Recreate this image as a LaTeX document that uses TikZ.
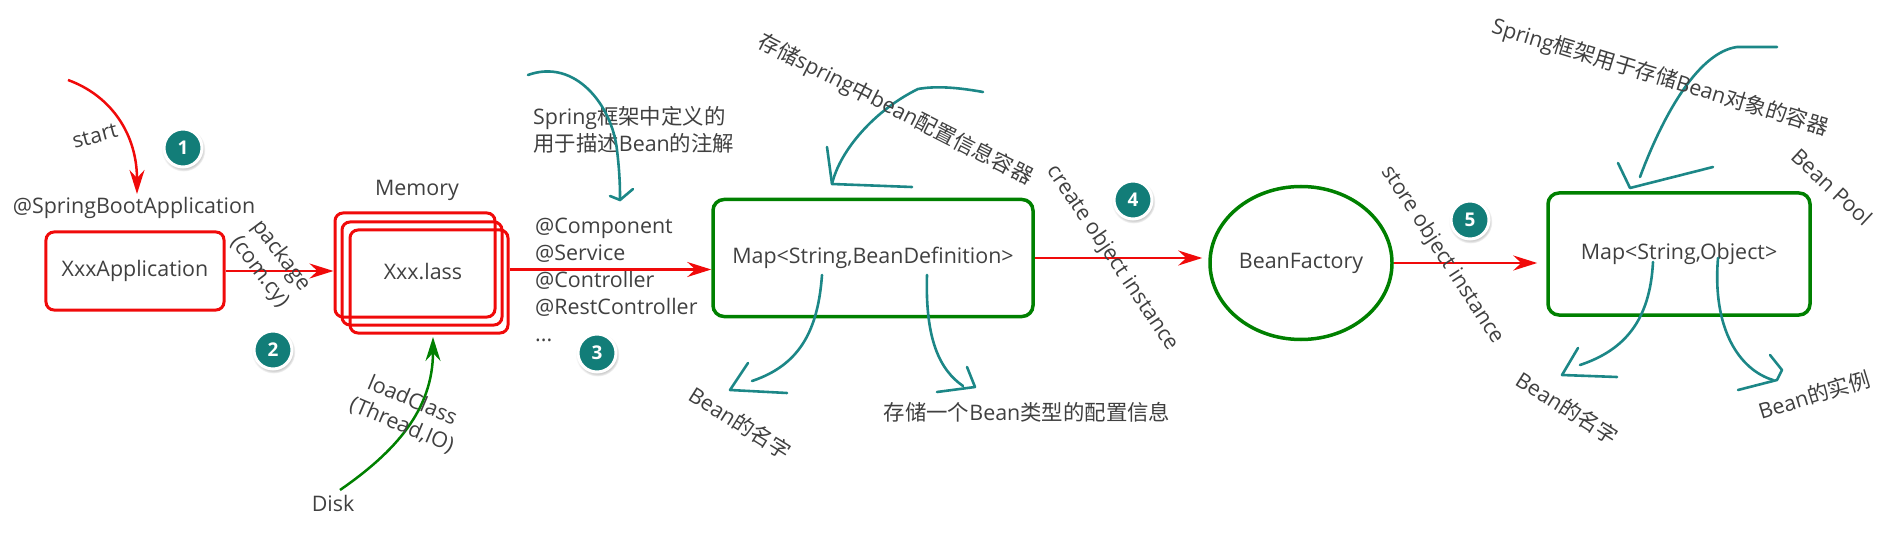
\documentclass[tikz,border=0pt]{standalone}
\usepackage{fontspec}
\setmainfont{Open Sans}
\newfontfamily\cjk{Noto Sans CJK SC}
\usetikzlibrary{arrows.meta,shapes.geometric,shadows}
\definecolor{myred}{RGB}{240,10,10}
\definecolor{mygreen}{RGB}{0,128,0}
\definecolor{myteal}{RGB}{28,135,135}
\definecolor{numfill}{RGB}{18,125,120}
\definecolor{txt}{RGB}{64,64,64}
\tikzset{
 lbl/.style={text=txt, font=\fontsize{21.5}{27}\selectfont, inner sep=0pt},
 redbox/.style={draw=myred, line width=3bp, rounded corners=8bp},
 greenbox/.style={lbl, draw=mygreen, line width=3.5bp, rounded corners=11bp},
 redarrow/.style={draw=myred, line width=2.5bp, -{Stealth[length=24bp,width=15bp,inset=8bp]}},
 greenarrow/.style={draw=mygreen, line width=2.5bp, -{Stealth[length=24bp,width=15bp,inset=8bp]}},
 tealline/.style={draw=myteal, line width=2.6bp, line cap=round, line join=round},
 numc/.style={circle, fill=numfill, draw=white, line width=3bp, minimum size=38bp, inner sep=0pt, text=white, font=\bfseries\fontsize{19}{19}\selectfont, circular drop shadow={shadow xshift=0.5bp, shadow yshift=-1.5bp, opacity=0.4, shadow scale=1.15}},
}
\begin{document}
\begin{tikzpicture}[x=1bp,y=-1bp]
\useasboundingbox (0,0) rectangle (1882,533);
% ---- step 1
\node[lbl] (sba) at (134,208) {@SpringBootApplication};
\node[lbl, redbox, minimum width=178bp, minimum height=78bp] (app) at (135,271) {XxxApplication};
\coordinate (s0) at (68,80);
\coordinate (s1) at (137,194);
\draw[redarrow] (s0) .. controls (112,96) and (137,135) .. (s1);
\node[lbl, rotate=15] (start) at (95,136) {start};
\node[numc] (n1) at (183,148) {1};
% ---- memory
\node[redbox, minimum width=160bp, minimum height=104bp] (m1) at (415,265) {};
\node[redbox, minimum width=160bp, minimum height=103bp] (m2) at (422,273.5) {};
\node[redbox, minimum width=158bp, minimum height=103bp] (m3) at (429,281.5) {};
\node[lbl] (xl) at (423,272) {Xxx.lass};
\node[lbl] (mem) at (417,190) {Memory};
\draw[redarrow] (app.east) -- (app.east -| m1.west);
\node[lbl, rotate=-53, align=center] (pkg) at (270,264) {package\\(com.cy)};
\node[numc] (n2) at (273,350) {2};
% ---- disk
\node[lbl] (disk) at (333,503) {Disk};
\coordinate (d0) at (340,490);
\coordinate (d1) at (433,337);
\draw[greenarrow] (d0) .. controls (395,452) and (433,410) .. (d1);
\node[lbl, rotate=-23, align=center] (lc) at (407,413) {loadClass\\(Thread,IO)};
% ---- annotations
\node[lbl, align=left, anchor=west] (ann) at (533,130) {Spring{\cjk 框架中定义的}\\{\cjk 用于描述}Bean{\cjk 的注解}};
\coordinate (a0) at (528,75);
\coordinate (a1) at (620,200);
\draw[tealline] (a0) .. controls (575,58) and (612,105) .. (617,150) .. controls (620,175) and (620,190) .. (a1);
\draw[tealline] (610,196) -- (a1) -- (633,189);
\node[lbl, align=left, anchor=west] (list) at (535,280) {@Component\\@Service\\@Controller\\@RestController\\...};
\node[numc] (n3) at (597,353) {3};
% ---- map bean definition
\node[greenbox, minimum width=320bp, minimum height=117bp] (mapbd) at (873,258) {Map<String,BeanDefinition>};
\path (m3.east) ++(0,-12) coordinate (o1);
\draw[redarrow] (o1) -- (o1 -| mapbd.west);
\coordinate (b0) at (983,92);
\coordinate (b1) at (832,184);
\draw[tealline] (b0) .. controls (955,87) and (935,86) .. (918,89) .. controls (875,110) and (840,150) .. (b1);
\draw[tealline] (827,147) -- (b1) -- (912,187);
\node[lbl, rotate=-27] (t1) at (895,110) {{\cjk 存储}spring{\cjk 中}bean{\cjk 配置信息容器}};
\coordinate (c0) at (822,275);
\coordinate (c1) at (730,390);
\draw[tealline] (c0) .. controls (818,330) and (800,365) .. (752,381);
\draw[tealline] (748,363) -- (c1) -- (787,393);
\node[lbl, rotate=-32] (bn1) at (740,423) {Bean{\cjk 的名字}};
\coordinate (e0) at (927,275);
\coordinate (e1) at (975,387);
\draw[tealline] (e0) .. controls (925,340) and (940,370) .. (963,386);
\draw[tealline] (967,367) -- (e1) -- (937,392);
\node[lbl] (cfg) at (1027,412) {{\cjk 存储一个}Bean{\cjk 类型的配置信息}};
% ---- bean factory
\node[lbl, ellipse, draw=mygreen, line width=3.5bp, minimum width=182bp, minimum height=153bp] (bf) at (1301,263) {BeanFactory};
\draw[redarrow, shorten >=6bp] (mapbd.east) -- (mapbd.east -| bf.west);
\node[lbl, rotate=-56] (coi) at (1112,258) {create object instance};
\node[numc] (n4) at (1133,200) {4};
% ---- map object
\node[greenbox, minimum width=262bp, minimum height=122bp] (mapobj) at (1679,254) {Map<String,Object>};
\draw[redarrow, shorten >=9bp] (bf.east) -- (bf.east -| mapobj.west);
\node[lbl, rotate=-57] (soi) at (1442,255) {store object instance};
\node[numc] (n5) at (1470,220) {5};
\coordinate (f0) at (1777,47);
\coordinate (f1) at (1630,188);
\draw[tealline] (f0) -- (1737,47) .. controls (1700,52) and (1665,110) .. (1640,177);
\draw[tealline] (1618,163) -- (f1) -- (1713,167);
\node[lbl, rotate=-17] (t2) at (1660,78) {Spring{\cjk 框架用于存储}Bean{\cjk 对象的容器}};
\node[lbl, rotate=-43] (bp) at (1832,187) {Bean Pool};
\coordinate (g0) at (1653,262);
\coordinate (g1) at (1562,375);
\draw[tealline] (g0) .. controls (1650,320) and (1625,350) .. (1580,365);
\draw[tealline] (1578,348) -- (g1) -- (1617,377);
\node[lbl, rotate=-32] (bn2) at (1567,408) {Bean{\cjk 的名字}};
\coordinate (h0) at (1718,258);
\coordinate (h1) at (1782,370);
\draw[tealline] (h0) .. controls (1712,330) and (1740,370) .. (1773,380);
\draw[tealline] (1770,355) -- (h1) -- (1777,380) -- (1738,390);
\node[lbl, rotate=17] (bi) at (1814,395) {Bean{\cjk 的实例}};
\end{tikzpicture}
\end{document}
